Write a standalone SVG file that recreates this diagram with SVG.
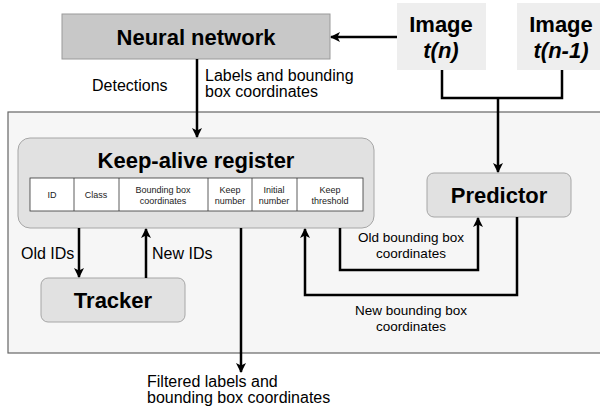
<svg xmlns="http://www.w3.org/2000/svg" width="600" height="408" viewBox="0 0 600 408">
<defs>
<marker id="ah" viewBox="0 0 10 10" refX="9" refY="5" markerWidth="4" markerHeight="4" orient="auto" markerUnits="strokeWidth">
<path d="M0,0 L10,5 L0,10 L2.5,5 Z" fill="#000"/>
</marker>
<style>
text{font-family:"Liberation Sans",Arial,sans-serif;fill:#000}
.big{font-size:22px;font-weight:bold;text-anchor:middle}
.lbl{font-size:16px}
.sm{font-size:13.5px;text-anchor:middle}
.cell{font-size:9px;text-anchor:middle;fill:#222}
.con{fill:none;stroke:#000;stroke-width:2.5}
.node{fill:#e1e1e1;stroke:#a6a6a6;stroke-width:1}
</style>
</defs>
<rect x="8" y="112" width="600" height="241" fill="#f6f6f6" stroke="#666" stroke-width="1.2"/>
<g id="neural-network">
<rect x="62" y="14" width="268" height="45" fill="#c8c8c8" stroke="#9a9a9a"/>
<text class="big" x="196" y="45">Neural network</text>
</g>
<g id="image-tn">
<rect x="397" y="3" width="89" height="67" fill="#eeeeee"/>
<text class="big" x="441" y="32">Image</text>
<text class="big" x="441" y="58" font-style="italic">t(n)</text>
</g>
<g id="image-tn1">
<rect x="517" y="3" width="83" height="67" fill="#eeeeee"/>
<text class="big" x="561" y="32">Image</text>
<text class="big" x="561" y="58" font-style="italic">t(n-1)</text>
</g>
<g id="keep-alive-register">
<rect class="node" x="18" y="138" width="356" height="90" rx="12"/>
<text class="big" x="196" y="168">Keep-alive register</text>
<rect x="30" y="178" width="333" height="33" fill="#fff" stroke="#333" stroke-width="0.8"/>
<g stroke="#333" stroke-width="0.8">
<line x1="74" y1="178" x2="74" y2="211"/>
<line x1="119" y1="178" x2="119" y2="211"/>
<line x1="208" y1="178" x2="208" y2="211"/>
<line x1="252" y1="178" x2="252" y2="211"/>
<line x1="297" y1="178" x2="297" y2="211"/>
</g>
<text class="cell" x="52" y="198">ID</text>
<text class="cell" x="96" y="198">Class</text>
<text class="cell" x="163" y="193">Bounding box</text>
<text class="cell" x="163" y="204">coordinates</text>
<text class="cell" x="230" y="193">Keep</text>
<text class="cell" x="230" y="204">number</text>
<text class="cell" x="274" y="193">Initial</text>
<text class="cell" x="274" y="204">number</text>
<text class="cell" x="330" y="193">Keep</text>
<text class="cell" x="330" y="204">threshold</text>
</g>
<g id="tracker">
<rect class="node" x="41" y="278" width="144" height="44" rx="7"/>
<text class="big" x="113" y="308">Tracker</text>
</g>
<g id="predictor">
<rect class="node" x="427" y="173" width="144" height="44" rx="7"/>
<text class="big" x="499" y="203">Predictor</text>
</g>
<g id="connectors">
<line class="con" x1="397" y1="37" x2="331" y2="37" marker-end="url(#ah)"/>
<line class="con" x1="197" y1="59" x2="197" y2="137" marker-end="url(#ah)"/>
<polyline class="con" points="442,70 442,98 562,98 562,70"/>
<line class="con" x1="498" y1="98" x2="498" y2="172" marker-end="url(#ah)"/>
<line class="con" x1="79" y1="228" x2="79" y2="277" marker-end="url(#ah)"/>
<line class="con" x1="146" y1="278" x2="146" y2="229" marker-end="url(#ah)"/>
<line class="con" x1="241" y1="228" x2="241" y2="372" marker-end="url(#ah)"/>
<polyline class="con" points="340,228 340,270 478,270 478,218" marker-end="url(#ah)"/>
<polyline class="con" points="517,217 517,295 305,295 305,229" marker-end="url(#ah)"/>
</g>
<text class="lbl" x="92" y="91">Detections</text>
<text class="lbl" x="205" y="81">Labels and bounding</text>
<text class="lbl" x="205" y="97">box coordinates</text>
<text class="lbl" x="21" y="259">Old IDs</text>
<text class="lbl" x="152" y="259">New IDs</text>
<text class="sm" x="411" y="242">Old bounding box</text>
<text class="sm" x="411" y="258">coordinates</text>
<text class="sm" x="411" y="315">New bounding box</text>
<text class="sm" x="411" y="331">coordinates</text>
<text class="lbl" x="147" y="387">Filtered labels and</text>
<text class="lbl" x="147" y="403">bounding box coordinates</text>
</svg>
